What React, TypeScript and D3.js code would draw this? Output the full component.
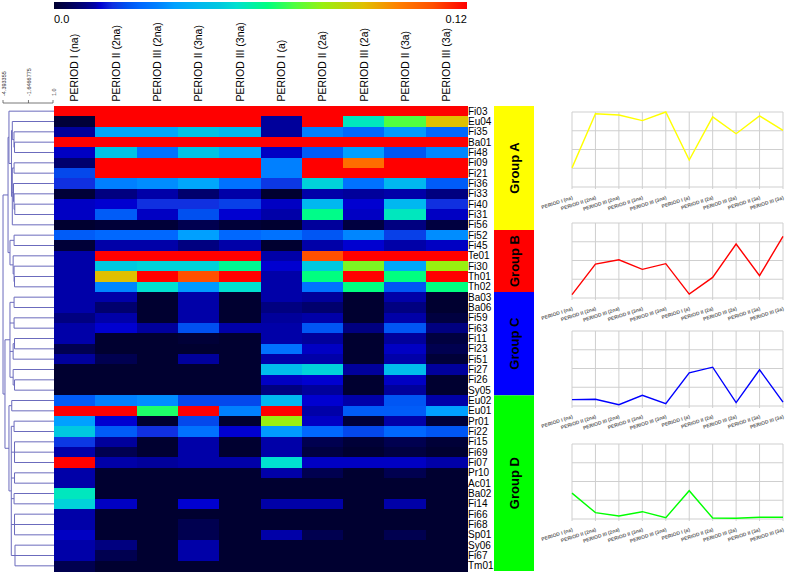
import React from "react";
import * as d3 from "d3";

const columns = [
  "PERIOD I (na)", "PERIOD II (2na)", "PERIOD III (2na)", "PERIOD II (3na)", "PERIOD III (3na)",
  "PERIOD I (a)", "PERIOD II (2a)", "PERIOD III (2a)", "PERIOD II (3a)", "PERIOD III (3a)",
];

const rowNames = [
  "Fi03", "Eu04", "Fi35", "Ba01", "Fi48", "Fi09", "Fi21", "Fi36", "Fi33", "Fi40", "Fi31", "Fi56",
  "Fi52", "Fi45", "Te01", "Fi30", "Th01", "Th02",
  "Ba03", "Ba06", "Fi59", "Fi63", "Fi11", "Fi23", "Fi51", "Fi27", "Fi26", "Sy05",
  "Eu02", "Eu01", "Pr01", "Fi22", "Fi15", "Fi69", "Fi07", "Pr10", "Ac01", "Ba02", "Fi14", "Fi66",
  "Fi68", "Sp01", "Sy06", "Fi67", "Tm01",
];

const heat: number[][] = [
  [0.12, 0.12, 0.12, 0.12, 0.12, 0.12, 0.12, 0.12, 0.12, 0.12],
  [0.001, 0.12, 0.12, 0.12, 0.12, 0.011, 0.12, 0.055, 0.07, 0.09],
  [0.011, 0.037, 0.037, 0.046, 0.042, 0.011, 0.03, 0.025, 0.034, 0.025],
  [0.12, 0.12, 0.12, 0.12, 0.12, 0.12, 0.12, 0.12, 0.12, 0.12],
  [0.013, 0.046, 0.027, 0.046, 0.037, 0.013, 0.023, 0.035, 0.022, 0.031],
  [0.007, 0.12, 0.12, 0.12, 0.12, 0.03, 0.12, 0.104, 0.12, 0.12],
  [0.02, 0.12, 0.12, 0.12, 0.12, 0.03, 0.12, 0.12, 0.12, 0.12],
  [0.017, 0.03, 0.032, 0.037, 0.027, 0.018, 0.05, 0.027, 0.042, 0.023],
  [0.001, 0.009, 0.012, 0.007, 0.012, 0, 0.012, 0.011, 0.012, 0.009],
  [0.013, 0.0135, 0.017, 0.017, 0.019, 0.013, 0.042, 0.0135, 0.042, 0.017],
  [0.013, 0.023, 0.013, 0.021, 0.0135, 0.012, 0.061, 0.013, 0.055, 0.013],
  [0, 0.001, 0.001, 0.004, 0.001, 0, 0.011, 0.002, 0.009, 0.002],
  [0.023, 0.025, 0.025, 0.035, 0.025, 0.027, 0.022, 0.031, 0.019, 0.032],
  [0.001, 0.012, 0.012, 0.009, 0.012, 0, 0.012, 0.0135, 0.012, 0.013],
  [0.012, 0.12, 0.12, 0.12, 0.12, 0.012, 0.11, 0.12, 0.12, 0.12],
  [0.012, 0.048, 0.05, 0.05, 0.06, 0.0135, 0.048, 0.075, 0.037, 0.078],
  [0.012, 0.09, 0.12, 0.11, 0.12, 0.012, 0.062, 0.12, 0.062, 0.12],
  [0.012, 0.031, 0.053, 0.034, 0.053, 0.012, 0.027, 0.062, 0.022, 0.062],
  [0.012, 0.012, 0, 0.012, 0, 0.012, 0.011, 0, 0.012, 0],
  [0.012, 0.007, 0, 0.012, 0, 0.009, 0.007, 0, 0.009, 0],
  [0.009, 0.012, 0, 0.012, 0, 0.011, 0.012, 0, 0.012, 0.002],
  [0.012, 0.0135, 0.011, 0.021, 0.012, 0.012, 0.022, 0.009, 0.022, 0.009],
  [0.012, 0, 0, 0.001, 0, 0.012, 0.011, 0, 0.011, 0.002],
  [0.004, 0, 0, 0, 0, 0.027, 0.013, 0, 0.013, 0.004],
  [0.011, 0.004, 0, 0.011, 0, 0.012, 0.012, 0, 0.012, 0.001],
  [0, 0, 0, 0, 0, 0.044, 0.05, 0.011, 0.044, 0.011],
  [0, 0, 0, 0, 0, 0.013, 0.0135, 0, 0.013, 0],
  [0, 0, 0, 0, 0, 0.009, 0.011, 0, 0.011, 0],
  [0.023, 0.03, 0.032, 0.02, 0.02, 0.042, 0.0135, 0.012, 0.022, 0.012],
  [0.12, 0.12, 0.065, 0.12, 0.03, 0.12, 0.012, 0.023, 0.023, 0.035],
  [0.035, 0.0135, 0, 0.02, 0, 0.078, 0.013, 0.001, 0.012, 0.001],
  [0.048, 0.023, 0.017, 0.027, 0.0135, 0.034, 0.025, 0.02, 0.025, 0.022],
  [0.018, 0.011, 0, 0.012, 0, 0.012, 0.004, 0.001, 0.004, 0.001],
  [0.012, 0.004, 0, 0.012, 0, 0.012, 0.002, 0, 0.002, 0],
  [0.12, 0.012, 0.011, 0.012, 0.012, 0.053, 0.013, 0.013, 0.013, 0.012],
  [0.012, 0, 0, 0, 0, 0.012, 0.004, 0, 0.004, 0],
  [0.012, 0, 0, 0, 0, 0, 0, 0, 0, 0],
  [0.055, 0, 0, 0, 0, 0, 0, 0, 0, 0],
  [0.05, 0.013, 0, 0.0135, 0, 0.012, 0.012, 0, 0.012, 0],
  [0.012, 0, 0, 0, 0, 0, 0, 0, 0, 0],
  [0.012, 0, 0, 0.004, 0, 0, 0, 0, 0, 0],
  [0.013, 0, 0, 0.004, 0, 0.012, 0.004, 0, 0.004, 0],
  [0.012, 0.009, 0, 0.012, 0, 0, 0, 0, 0, 0],
  [0.012, 0.004, 0, 0.012, 0, 0, 0, 0, 0, 0],
  [0.004, 0, 0, 0, 0, 0, 0, 0, 0, 0],
];

const scaleMin = 0.0;
const scaleMax = 0.12;
const stopValues = [0, 0.004, 0.009, 0.012, 0.0135, 0.017, 0.021, 0.025, 0.03, 0.035, 0.042, 0.048, 0.053, 0.062, 0.07, 0.078, 0.09, 0.1, 0.11, 0.12];
const stopColors = ["#000030", "#000050", "#000080", "#0000a8", "#0000d0", "#1030e0", "#0050f0", "#0068ff", "#0080ff", "#00a0ff", "#00b8f0", "#00c8e0", "#00e0d0", "#00ff80", "#50ff40", "#98f010", "#e0c000", "#ff8000", "#ff5000", "#ff0000"];

const groupNames = ["Group A", "Group B", "Group C", "Group D"];
const groupSizes = [12, 6, 10, 17];
const groupColors = ["#ffff00", "#ff0000", "#0000ff", "#00ff00"];

const trendA = [1.02, 3.91, 3.84, 3.54, 4.0, 1.44, 3.74, 2.84, 3.79, 3.02];
const trendB = [0.18, 1.81, 2.04, 1.53, 1.83, 0.21, 1.1, 2.88, 1.19, 3.29];
const trendC = [0.34, 0.36, 0.07, 0.57, 0.13, 1.77, 2.07, 0.18, 1.93, 0.21];
const trendD = [1.38, 0.34, 0.16, 0.39, 0.07, 1.51, 0.05, 0.04, 0.09, 0.09];
const trendColors = ["#ffff00", "#ff0000", "#0000ff", "#00ff00"];
const trendMax = 4;

const dendroTicks = [-4.393355, -1.6466775, 1.0];

type TNode = { h: number; c: (TNode | string)[] };
const N = (h: number, ...c: (TNode | string)[]): TNode => ({ h, c });

const tree: TNode = N(-4.39,
  N(-3.85,
    N(-3.75, "Fi03",
      N(-3.48,
        N(-3.39, "Eu04", N(-3.21, "Fi35", N(-3.15, "Ba01", "Fi48"))),
        N(-3.39, N(-3.2, "Fi09", "Fi21"), N(-3.26, "Fi36", N(-3.2, "Fi33", N(-3.12, "Fi40", "Fi31"))), "Fi56"))),
    N(-3.64,
      N(-3.2, "Fi52", "Fi45"),
      N(-3.3, "Te01", N(-3.2, "Fi30", N(-3.15, "Th01", "Th02"))))),
  N(-4.18,
    N(-3.64,
      N(-3.2, "Ba03", "Ba06"),
      N(-3.2, "Fi59", "Fi63"),
      N(-3.3, N(-3.15, "Fi11", "Fi23"), "Fi51"),
      N(-3.3, "Fi27", N(-3.15, "Fi26", "Sy05"))),
    N(-3.75,
      N(-3.45, "Eu02", "Eu01"),
      N(-3.5,
        N(-3.2, "Pr01", "Fi22"),
        N(-3.15, "Fi15", "Fi69", "Fi07"),
        N(-3.15, "Pr10", "Ac01"),
        N(-3.2, "Ba02", "Fi14"),
        N(-3.15, "Fi66", "Fi68", "Sp01"),
        N(-3.1, "Sy06", "Fi67", "Tm01")))));

const FONT = "'Liberation Sans', Arial, sans-serif";

export default function App() {
  const hmLeft = 54, hmRight = 467, hmTop = 106, hmBottom = 571;
  const xBand = d3.scaleBand<string>().domain(columns).range([hmLeft, hmRight]);
  const yBand = d3.scaleBand<string>().domain(rowNames).range([hmTop, hmBottom]);
  const color = d3.scaleLinear<string>().domain(stopValues).range(stopColors).interpolate(d3.interpolateRgb).clamp(true);
  const cbScale = d3.scaleLinear().domain([scaleMin, scaleMax]).range([hmLeft, hmRight]);

  // dendrogram
  const dScale = d3.scaleLinear().domain([dendroTicks[0], dendroTicks[2]]).range([3, 53]);
  const root = d3.hierarchy<TNode | string>(tree, (d) => (typeof d === "string" ? null : d.c));
  const pos = new Map<any, { x: number; y: number }>();
  root.eachAfter((n) => {
    if (typeof n.data === "string") {
      pos.set(n, { x: hmLeft, y: (yBand(n.data) as number) + yBand.bandwidth() / 2 });
    } else {
      const ch = n.children!.map((c) => pos.get(c)!);
      pos.set(n, { x: dScale(n.data.h), y: (ch[0].y + ch[ch.length - 1].y) / 2 });
    }
  });
  const dSegs: string[] = [];
  root.each((n) => {
    if (!n.children) return;
    const p = pos.get(n)!;
    const ys = n.children.map((c) => pos.get(c)!.y);
    dSegs.push(`M${p.x},${d3.min(ys)}V${d3.max(ys)}`);
    n.children.forEach((c) => {
      const q = pos.get(c)!;
      dSegs.push(`M${p.x},${q.y}H${q.x}`);
    });
  });

  const groupStarts = groupSizes.map((_, i) => d3.sum(groupSizes.slice(0, i)));

  const trends = [trendA, trendB, trendC, trendD];
  const panelTops = [112, 223, 331, 444];
  const panelH = 75;
  const px = d3.scalePoint<string>().domain(columns).range([572, 783]);

  return (
    <svg width={787} height={573} style={{ position: "absolute", left: 0, top: 0, background: "#fff" }} fontFamily={FONT}>
      <rect x={0} y={0} width={787} height={573} fill="#fff" />
      <defs>
        <linearGradient id="cb" x1="0" x2="1" y1="0" y2="0">
          {stopValues.map((v, i) => (
            <stop key={i} offset={(v - scaleMin) / (scaleMax - scaleMin)} stopColor={stopColors[i]} />
          ))}
        </linearGradient>
      </defs>
      <rect x={cbScale(scaleMin)} y={2} width={cbScale(scaleMax) - cbScale(scaleMin)} height={7} fill="url(#cb)" />
      <text x={cbScale(scaleMin)} y={22.5} fontSize={11} fill="#000">{scaleMin.toFixed(1)}</text>
      <text x={cbScale(scaleMax)} y={22.5} fontSize={11} fill="#000" textAnchor="end">{String(scaleMax)}</text>

      {columns.map((c) => {
        const cx = (xBand(c) as number) + xBand.bandwidth() / 2 + 3.8;
        return (
          <text key={c} transform={`translate(${cx},101.5) rotate(-90)`} fontSize={10.5} fill="#000">{c}</text>
        );
      })}

      <g shapeRendering="crispEdges">
        {rowNames.map((r, i) =>
          columns.map((c, j) => (
            <rect key={r + c} x={xBand(c)} y={yBand(r)} width={xBand.bandwidth() + 0.5} height={yBand.bandwidth() + 0.5} fill={color(heat[i][j])} />
          ))
        )}
      </g>

      {rowNames.map((r) => (
        <text key={r} x={468} y={(yBand(r) as number) + yBand.bandwidth() / 2 + 3.6} fontSize={10} fill="#000">{r}</text>
      ))}

      {groupNames.map((g, i) => {
        const top = yBand(rowNames[groupStarts[i]]) as number;
        const bot = (yBand(rowNames[groupStarts[i] + groupSizes[i] - 1]) as number) + yBand.bandwidth();
        return (
          <g key={g}>
            <rect x={494} y={top} width={40} height={bot - top} fill={groupColors[i]} />
            <text transform={`translate(${519},${(top + bot) / 2}) rotate(-90)`} textAnchor="middle" fontSize={13} fontWeight="bold" fill="#000">{g}</text>
          </g>
        );
      })}

      <path d={dSegs.join("")} stroke="#6b6bbd" strokeWidth={1} fill="none" />
      <g stroke="#555" strokeWidth={0.8} fill="none">
        <path d={`M${dScale(dendroTicks[0])},103H${dScale(dendroTicks[2])}`} />
        {dendroTicks.map((t) => (
          <path key={t} d={`M${dScale(t)},103V100`} />
        ))}
      </g>
      {dendroTicks.map((t) => (
        <text key={"l" + t} transform={`translate(${dScale(t) + 3},96) rotate(-90)`} fontSize={5.5} fill="#333">{t === 1 ? "1.0" : String(t)}</text>
      ))}

      {trends.map((vals, k) => {
        const py = d3.scaleLinear().domain([0, trendMax]).range([panelTops[k] + panelH, panelTops[k]]);
        const line = d3.line<number>().x((_, i) => px(columns[i]) as number).y((v) => py(v));
        return (
          <g key={k}>
            <g stroke="#cfcfcf" strokeWidth={1}>
              {d3.range(0, trendMax + 1).map((t) => (
                <line key={"h" + t} x1={572} x2={783} y1={py(t)} y2={py(t)} />
              ))}
              {columns.map((c) => (
                <line key={"v" + c} x1={px(c)} x2={px(c)} y1={panelTops[k]} y2={panelTops[k] + panelH + 2} />
              ))}
            </g>
            <path d={line(vals) as string} stroke={trendColors[k]} strokeWidth={1.4} fill="none" />
            {columns.map((c) => (
              <text key={"t" + c} transform={`translate(${(px(c) as number) + 1},${panelTops[k] + panelH + 12}) rotate(-18)`} textAnchor="end" fontSize={5} fontWeight="bold" fill="#666">{c}</text>
            ))}
          </g>
        );
      })}
    </svg>
  );
}
